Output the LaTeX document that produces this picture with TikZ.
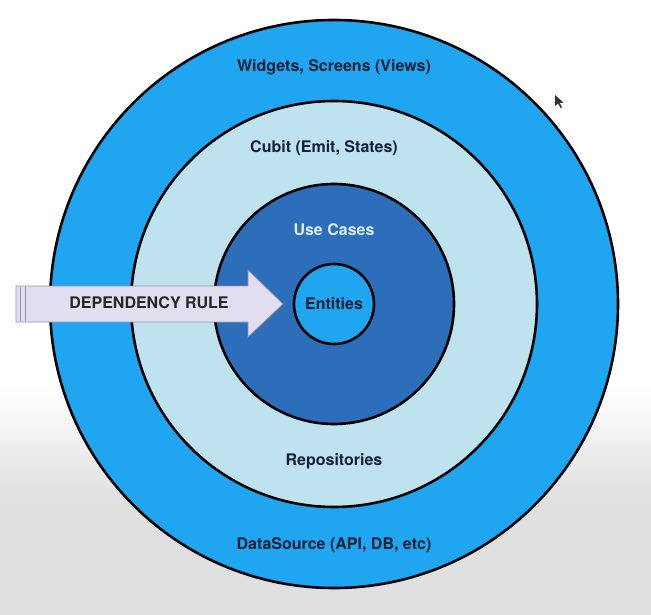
\documentclass[tikz,border=0pt]{standalone}
\usepackage{fontspec}
\setmainfont{TeX Gyre Heros}
\usetikzlibrary{shapes.geometric}
\definecolor{outerblue}{RGB}{32,166,240}
\definecolor{lightblue}{RGB}{190,226,238}
\definecolor{darkblue}{RGB}{44,110,186}
\definecolor{navytext}{RGB}{22,32,54}
\definecolor{usecasetext}{RGB}{222,236,248}
\definecolor{arrowfill}{RGB}{226,222,240}
\definecolor{arrowline}{RGB}{150,146,172}
\definecolor{bggray}{RGB}{224,224,224}
\tikzset{
  ring/.style={circle, draw=black, line width=2.6pt, inner sep=0pt},
  lbl/.style={font=\fontsize{16}{19}\selectfont\bfseries, text=navytext, inner sep=0pt},
  arrowbody/.style={fill=arrowfill, draw=arrowline, line width=0.8pt, line join=miter}
}
\begin{document}
\begin{tikzpicture}[x=1pt,y=-1pt]
  \useasboundingbox (0,0) rectangle (651,615);
  \fill[white] (0,0) rectangle (651,385);
  \shade[top color=white, bottom color=bggray] (0,385) rectangle (651,500);
  \fill[bggray] (0,500) rectangle (651,615);
  % rings
  \node[ring, fill=outerblue, minimum size=568pt] (outer) at (334,304) {};
  \node[ring, fill=lightblue, minimum size=406pt] (cubit) at (334,304) {};
  \node[ring, fill=darkblue, minimum size=240pt] (usecases) at (334,304) {};
  \node[ring, fill=outerblue, minimum size=80pt] (entities) at (334,304) {};
  % labels
  \node[lbl] (widgets) at (334,67) {Widgets, Screens (Views)};
  \node[lbl] (cubitlbl) at (324,148) {Cubit (Emit, States)};
  \node[lbl, text=usecasetext] (uclbl) at (334,230) {Use Cases};
  \node[lbl] (entlbl) at (334,304) {Entities};
  \node[lbl] (repo) at (334,461) {Repositories};
  \node[lbl] (ds) at (334,545) {DataSource (API, DB, etc)};
  % dependency arrow
  \draw[arrowbody] (16,286) -- (248,286) -- (248,270) -- (283,304) -- (248,337) -- (248,322) -- (16,322) -- cycle;
  \draw[arrowline, line width=0.6pt] (20,287) -- (20,321);
  \draw[arrowline, line width=0.6pt] (25,287) -- (25,321);
  \node[lbl, text=black!85] (dep) at (149,303) {DEPENDENCY RULE};
  % mouse cursor
  \fill[black!80] (555,95) -- (555,106) -- (558,103.5) -- (560.5,108) -- (562,107.3) -- (559.7,103) -- (563.5,102.5) -- cycle;
\end{tikzpicture}
\end{document}
